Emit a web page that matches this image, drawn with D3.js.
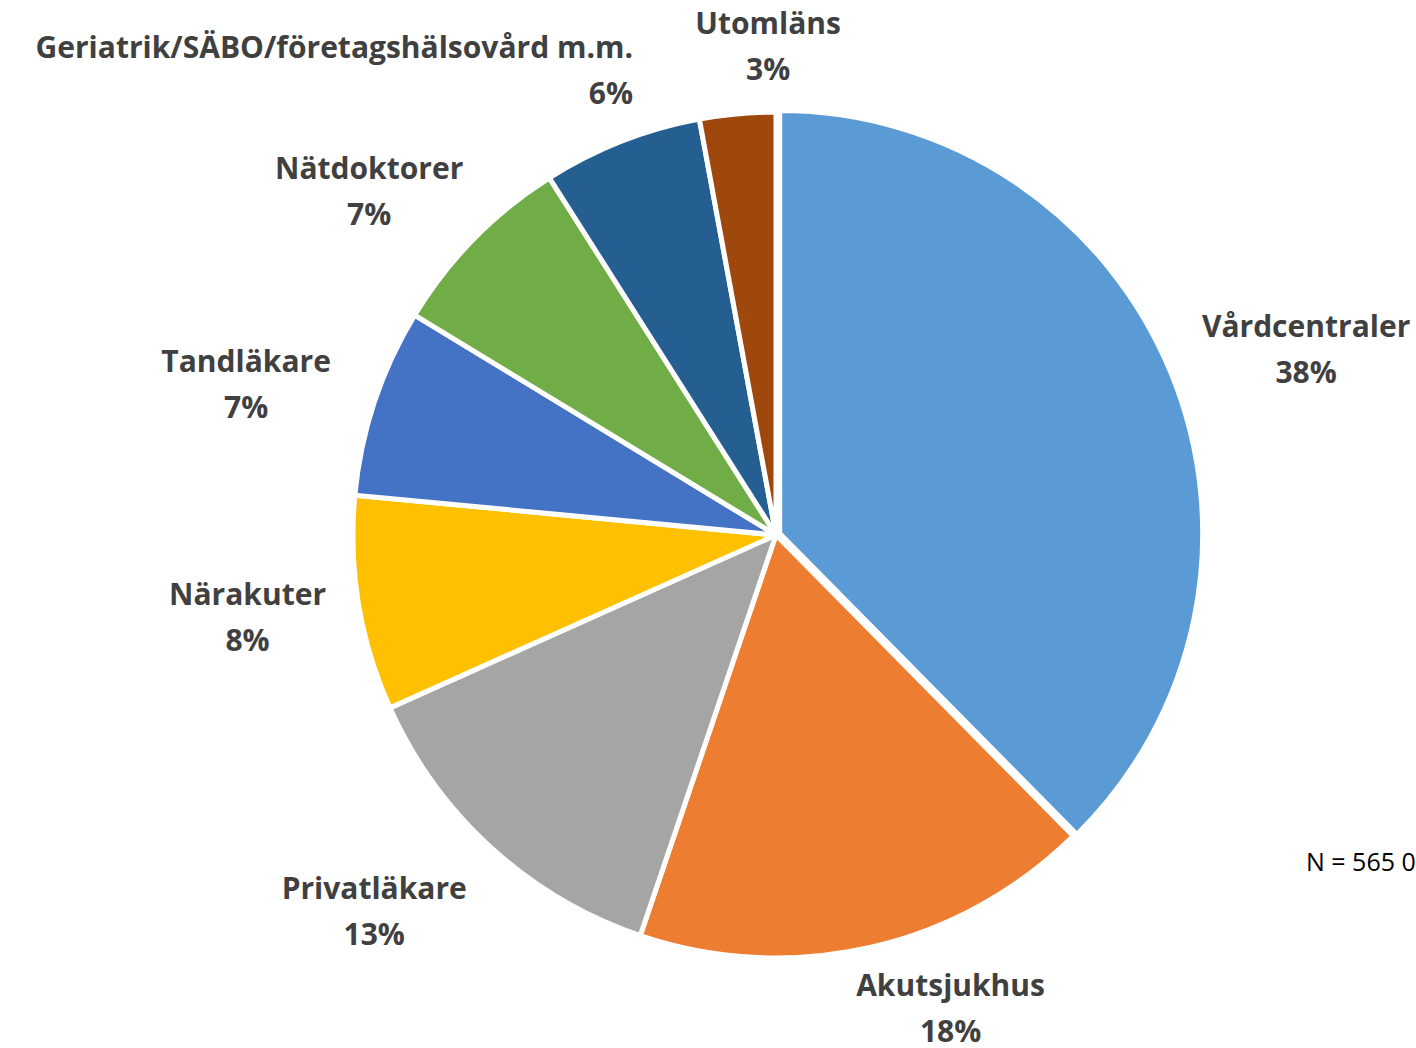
<!DOCTYPE html>
<html>
<head>
<meta charset="utf-8">
<script src="https://cdn.jsdelivr.net/npm/d3@7"></script>
<style>
  html, body { margin: 0; padding: 0; background: #fff; overflow: hidden; }
  svg { display: block; }
</style>
</head>
<body>
<script>
// categories, clockwise from 12 o'clock
const categories = ['Vårdcentraler', 'Akutsjukhus', 'Privatläkare', 'Närakuter',
  'Tandläkare', 'Nätdoktorer', 'Geriatrik/SÄBO/företagshälsovård m.m.', 'Utomläns']
// share of visits (%)
const shares = [37.6, 17.6, 13.1, 8.2, 7.2, 7.3, 6.1, 2.9]
const colors = ['#5B9BD5', '#ED7D31', '#A5A5A5', '#FFC000', '#4472C4', '#70AD47', '#255E91', '#9E480E']
const note = 'N = 565 000'

const width = 1416, height = 1048
const cx = 776, cy = 535, r = 423

// label nudges relative to the outer label arc (layout only)
const labelShift = [[74, 2], [64, -6], [-70, 12], [-42, 3], [-62, 5], [-55, 2], [37, -5], [37, 3]]
const labelAnchor = ['middle', 'middle', 'middle', 'middle', 'middle', 'middle', 'end', 'middle']

const svg = d3.select('body').append('svg')
  .attr('width', width)
  .attr('height', height)

const total = d3.sum(shares)
const data = categories.map((c, i) => ({ name: c, value: shares[i], color: colors[i] }))

const pie = d3.pie().sort(null).value(d => d.value)
const arcs = pie(data)

const arc = d3.arc().innerRadius(0).outerRadius(r)
const labelArc = d3.arc().innerRadius(r + 70).outerRadius(r + 70)

const g = svg.append('g').attr('transform', `translate(${cx},${cy})`)

g.selectAll('path')
  .data(arcs)
  .join('path')
  .attr('d', arc)
  .attr('fill', d => d.data.color)
  .attr('stroke', '#fff')
  .attr('stroke-width', 5)
  .attr('stroke-linejoin', 'round')
  .attr('transform', (d, i) => {
    // first slice is pulled out slightly
    if (i !== 0) return null
    const a = (d.startAngle + d.endAngle) / 2
    return `translate(${Math.sin(a) * 4},${-Math.cos(a) * 4})`
  })

const labels = g.selectAll('text.lbl')
  .data(arcs)
  .join('text')
  .attr('class', 'lbl')
  .attr('font-family', '"Open Sans", Lato, sans-serif')
  .attr('font-weight', 'bold')
  .attr('font-size', 30)
  .attr('fill', '#404040')
  .attr('text-anchor', (d, i) => labelAnchor[i])
  .attr('transform', (d, i) => {
    const [x, y] = labelArc.centroid(d)
    return `translate(${x + labelShift[i][0]},${y + labelShift[i][1]})`
  })

labels.append('tspan')
  .attr('x', 0)
  .attr('y', -13)
  .text(d => d.data.name)

labels.append('tspan')
  .attr('x', 0)
  .attr('y', 33)
  .text(d => Math.round(d.value / total * 100) + '%')

svg.append('text')
  .attr('x', 1306)
  .attr('y', 871)
  .attr('font-family', '"Open Sans", Lato, sans-serif')
  .attr('font-size', 25)
  .attr('fill', '#000')
  .text(note)
</script>
</body>
</html>
